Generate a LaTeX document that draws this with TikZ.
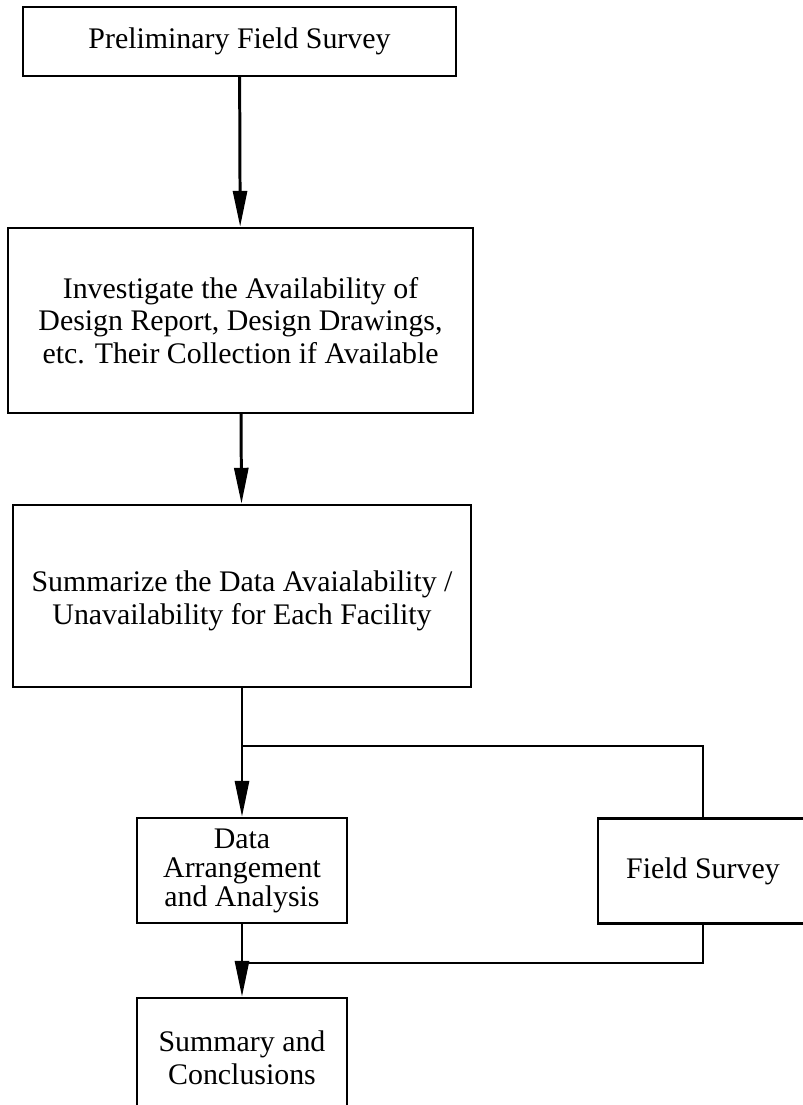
\documentclass[tikz,border=0pt]{standalone}
\usepackage{fontspec}
\setmainfont{Liberation Serif}
\usetikzlibrary{arrows.meta}
\usetikzlibrary{backgrounds,positioning}
\pgfdeclarelayer{edgelayer}
\pgfdeclarelayer{nodelayer}
\pgfsetlayers{background,edgelayer,nodelayer,main}
\tikzstyle{none}=[inner sep=0mm,align=center,font=\fontsize{17}{18.5}\selectfont]
\tikzstyle{box}=[none,draw=black,line width=1.4pt,shape=rectangle]
\tikzstyle{small box}=[box,minimum width=4.2cm,minimum height=2.1cm,font=\fontsize{17}{16.5}\selectfont]
\tikzstyle{diredge}=[line width=1.7pt,-{Triangle[length=7.2mm,width=2.8mm]}]
\tikzstyle{link}=[line width=1.1pt]

\begin{document}
\begin{tikzpicture}
	\useasboundingbox (0, 0) rectangle (16.04, -22.1);
	\begin{pgfonlayer}{nodelayer}
		\node [style=box, minimum width=8.66cm, minimum height=1.38cm] (0) at (4.79, -0.83) {Preliminary Field Survey};
		\node [style=box, minimum width=9.3cm, minimum height=3.7cm] (1) at (4.81, -6.41) {Investigate the Availability of\\Design Report, Design Drawings,\\etc. Their Collection if Available};
		\node [style=box, minimum width=9.16cm, minimum height=3.64cm] (2) at (4.84, -11.92) {};
		\node [style=none] (3) at (4.84, -12.02) {Summarize the Data Avaialability /\\Unavailability for Each Facility};
		\node [style=small box] (4) at (4.84, -17.41) {Data\\Arrangement\\and Analysis};
		\node [style=small box] (5) at (14.06, -17.42) {Field Survey};
		\node [style=small box, minimum height=2.4cm, font=\fontsize{17}{18.5}\selectfont] (6) at (4.84, -21.16) {Summary and\\Conclusions};
		\coordinate (7) at (4.84, -14.92);
		\coordinate (8) at (4.84, -19.26);
	\end{pgfonlayer}
	\begin{pgfonlayer}{edgelayer}
		\draw [style=diredge] (0) to (1);
		\draw [style=diredge] (1) to (2);
		\draw [style=diredge] (2) to (4);
		\draw [style=link] (7) -| (5);
		\draw [style=link] (5) |- (8);
		\draw [style=diredge] (4) to (6);
	\end{pgfonlayer}
\end{tikzpicture}
\end{document}
